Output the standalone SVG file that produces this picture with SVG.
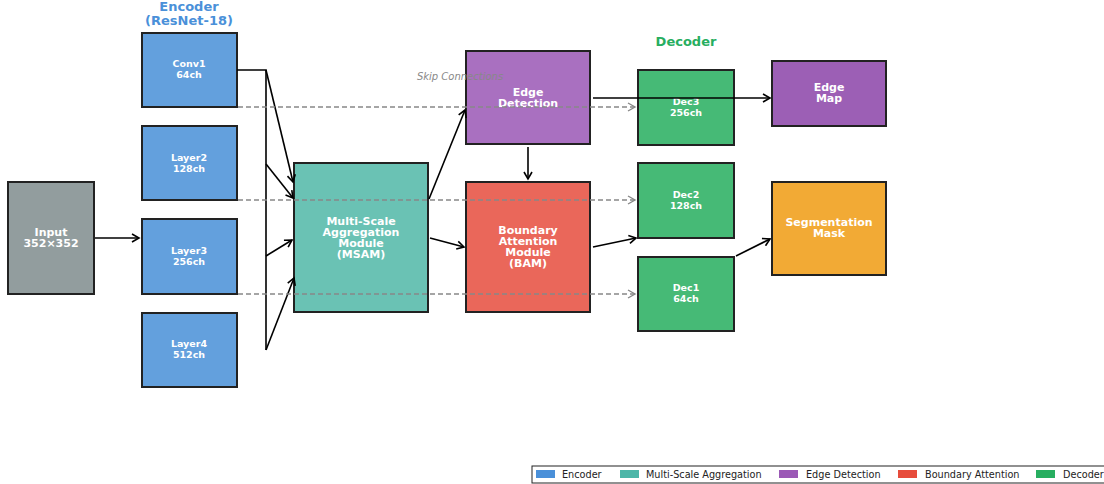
<svg xmlns="http://www.w3.org/2000/svg" width="1104" height="484" viewBox="0 0 1104 484">
<style>
text{font-family:"DejaVu Sans","Liberation Sans",sans-serif;text-anchor:middle}
.box{stroke:#222;stroke-width:2}
.lbl{fill:#fff;font-weight:bold}
.s{font-size:9.5px}
.m{font-size:11px}
.c{stroke:#000;stroke-width:1.6;fill:none}
.d{stroke:#888;stroke-width:1.4;stroke-dasharray:5,3;fill:none}
.leg{font-size:9.7px;text-anchor:start;fill:#222}
</style>
<defs>
<marker id="ah" markerWidth="10" markerHeight="10" refX="8" refY="5" orient="auto" markerUnits="userSpaceOnUse">
<path d="M1,1 L8,5 L1,9" fill="none" stroke="#000" stroke-width="1.6"/>
</marker>
<marker id="ag" markerWidth="10" markerHeight="10" refX="8" refY="5" orient="auto" markerUnits="userSpaceOnUse">
<path d="M1,1 L8,5 L1,9" fill="none" stroke="#888" stroke-width="1.4"/>
</marker>
</defs>
<rect width="1104" height="484" fill="#fff"/>
<text x="189" y="11" font-size="13" font-weight="bold" fill="#4a90d9">Encoder</text>
<text x="189" y="25" font-size="13" font-weight="bold" fill="#4a90d9">(ResNet-18)</text>
<text x="686" y="46" font-size="13" font-weight="bold" fill="#27ae60">Decoder</text>
<g id="input"><rect class="box" x="8" y="182" width="86" height="112" fill="#929d9e"/><text class="lbl m" x="51" y="236">Input</text><text class="lbl m" x="51" y="247">352×352</text></g>
<g id="conv1"><rect class="box" x="142" y="33" width="95" height="74" fill="#63a0dd"/><text class="lbl s" x="189" y="67">Conv1</text><text class="lbl s" x="189" y="78">64ch</text></g>
<g id="layer2"><rect class="box" x="142" y="126" width="95" height="74" fill="#63a0dd"/><text class="lbl s" x="189" y="161">Layer2</text><text class="lbl s" x="189" y="172">128ch</text></g>
<g id="layer3"><rect class="box" x="142" y="219" width="95" height="75" fill="#63a0dd"/><text class="lbl s" x="189" y="254">Layer3</text><text class="lbl s" x="189" y="265">256ch</text></g>
<g id="layer4"><rect class="box" x="142" y="313" width="95" height="74" fill="#63a0dd"/><text class="lbl s" x="189" y="347">Layer4</text><text class="lbl s" x="189" y="358">512ch</text></g>
<g id="msam"><rect class="box" x="294" y="163" width="134" height="149" fill="#6ac2b4"/><text class="lbl m" x="361" y="225">Multi-Scale</text><text class="lbl m" x="361" y="236">Aggregation</text><text class="lbl m" x="361" y="247">Module</text><text class="lbl m" x="361" y="258">(MSAM)</text></g>
<g id="edge"><rect class="box" x="466" y="51" width="124" height="93" fill="#a970c0"/><text class="lbl m" x="528" y="96">Edge</text><text class="lbl m" x="528" y="107">Detection</text></g>
<g id="bam"><rect class="box" x="466" y="182" width="124" height="130" fill="#ea675a"/><text class="lbl m" x="528" y="234">Boundary</text><text class="lbl m" x="528" y="245">Attention</text><text class="lbl m" x="528" y="256">Module</text><text class="lbl m" x="528" y="267">(BAM)</text></g>
<g id="dec3"><rect class="box" x="638" y="70" width="96" height="75" fill="#46ba76"/><text class="lbl s" x="686" y="105">Dec3</text><text class="lbl s" x="686" y="116">256ch</text></g>
<g id="dec2"><rect class="box" x="638" y="163" width="96" height="75" fill="#46ba76"/><text class="lbl s" x="686" y="198">Dec2</text><text class="lbl s" x="686" y="209">128ch</text></g>
<g id="dec1"><rect class="box" x="638" y="257" width="96" height="74" fill="#46ba76"/><text class="lbl s" x="686" y="291">Dec1</text><text class="lbl s" x="686" y="302">64ch</text></g>
<g id="edgemap"><rect class="box" x="772" y="61" width="114" height="65" fill="#9c5fb5"/><text class="lbl m" x="829" y="91">Edge</text><text class="lbl m" x="829" y="102">Map</text></g>
<g id="segmask"><rect class="box" x="772" y="182" width="114" height="93" fill="#f2aa35"/><text class="lbl m" x="829" y="226">Segmentation</text><text class="lbl m" x="829" y="237">Mask</text></g>
<text x="460" y="80" font-size="10" font-style="italic" fill="#888">Skip Connections</text>
<g id="connectors">
<path class="c" d="M95,238 H139" marker-end="url(#ah)"/>
<path class="c" d="M237,70 H266 V350"/>
<path class="c" d="M266,70 L293,182" marker-end="url(#ah)"/>
<path class="c" d="M266,164 L293,198" marker-end="url(#ah)"/>
<path class="c" d="M266,256 L292,240" marker-end="url(#ah)"/>
<path class="c" d="M266,350 L294,278" marker-end="url(#ah)"/>
<path class="c" d="M429,199 L465,110" marker-end="url(#ah)"/>
<path class="c" d="M430,238 L464,247" marker-end="url(#ah)"/>
<path class="c" d="M528,147 V179" marker-end="url(#ah)"/>
<path class="c" d="M593,247 L636,238" marker-end="url(#ah)"/>
<path class="c" d="M593,98 H770" marker-end="url(#ah)"/>
<path class="c" d="M736,256 L770,239" marker-end="url(#ah)"/>
<path class="d" d="M238,107 H635" marker-end="url(#ag)"/>
<path class="d" d="M238,200 H635" marker-end="url(#ag)"/>
<path class="d" d="M238,294 H635" marker-end="url(#ag)"/>
</g>
<g id="legend">
<rect x="532" y="466" width="580" height="17" fill="#fff" stroke="#222" stroke-width="1"/>
<rect x="536" y="470" width="19" height="8" fill="#4a90d9"/><text class="leg" x="562" y="478">Encoder</text>
<rect x="620" y="470" width="19" height="8" fill="#4db6a8"/><text class="leg" x="646" y="478">Multi-Scale Aggregation</text>
<rect x="779" y="470" width="19" height="8" fill="#9b59b6"/><text class="leg" x="806" y="478">Edge Detection</text>
<rect x="898" y="470" width="19" height="8" fill="#e74c3c"/><text class="leg" x="925" y="478">Boundary Attention</text>
<rect x="1036" y="470" width="19" height="8" fill="#27ae60"/><text class="leg" x="1063" y="478">Decoder</text>
</g>
</svg>
